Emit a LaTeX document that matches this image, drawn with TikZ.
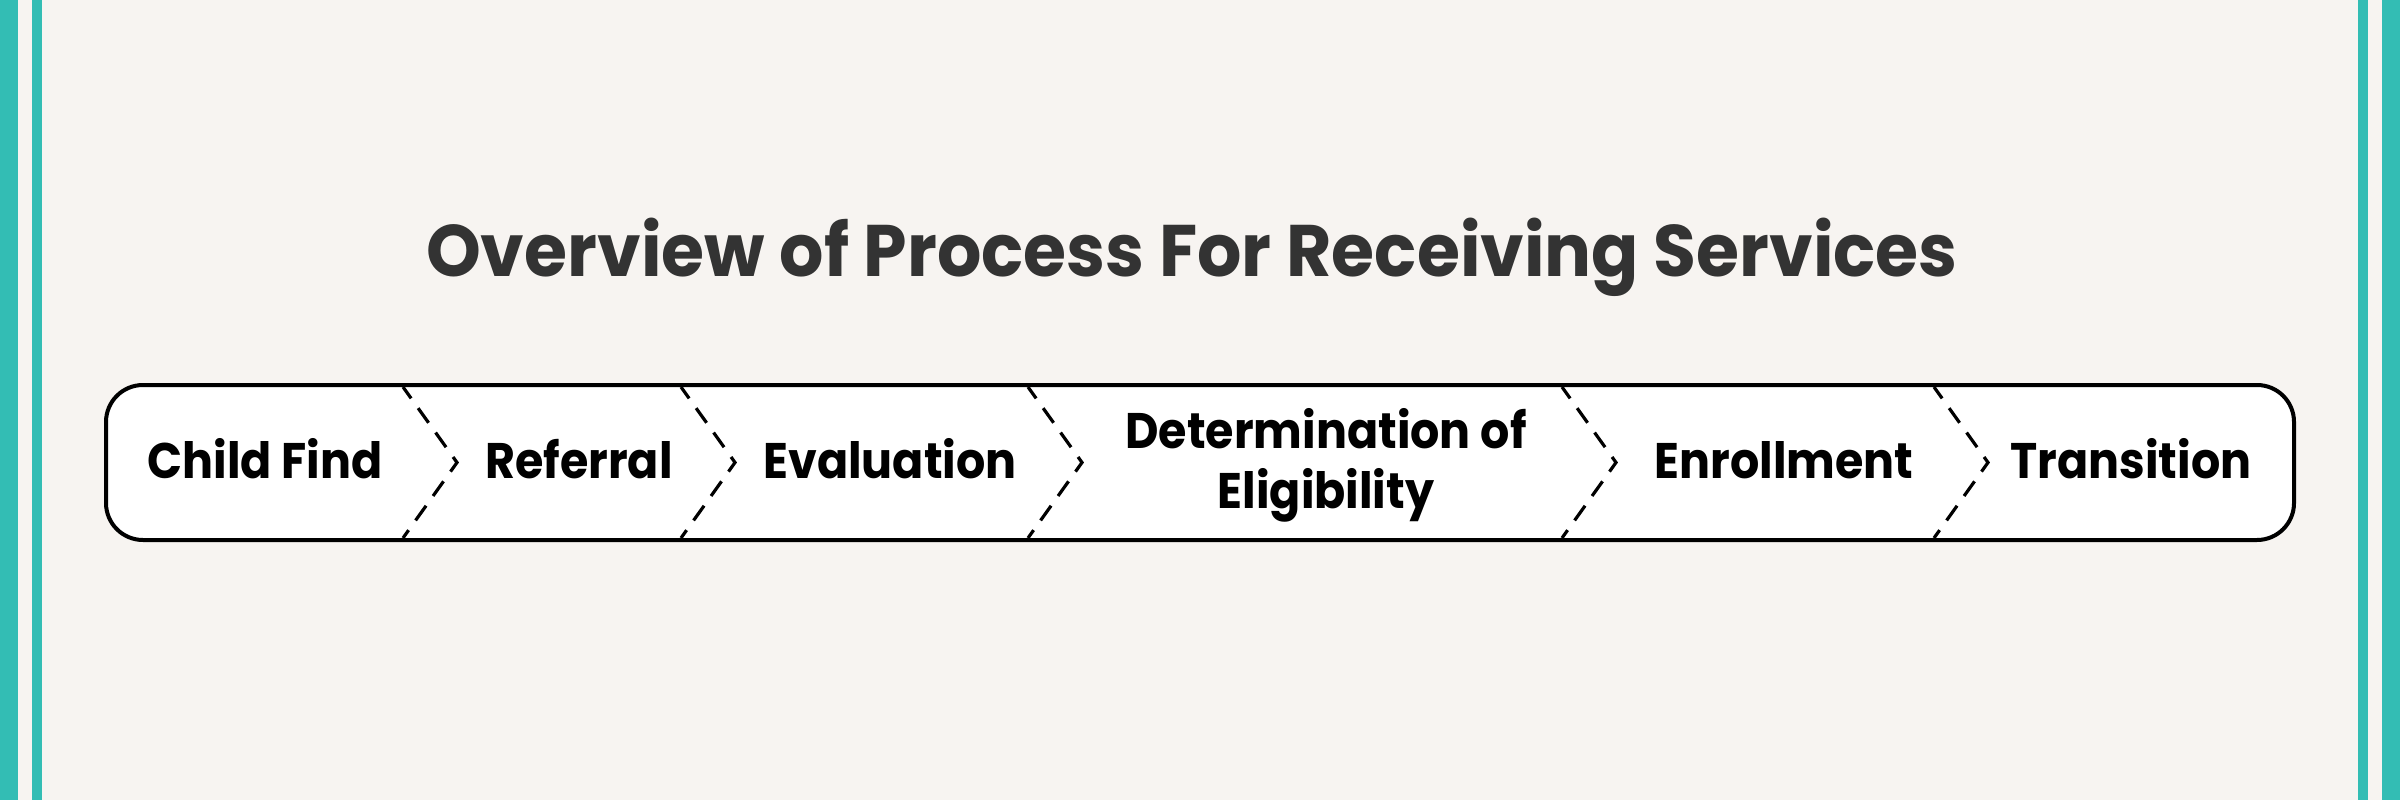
\documentclass[tikz,border=0pt]{standalone}
\usepackage{fontspec}
\setmainfont{Poppins}[FakeStretch=0.92]
\newfontfamily\titlefont{Poppins}[FakeStretch=0.955]
\definecolor{bgc}{HTML}{F7F4F1}
\definecolor{tealc}{HTML}{33BDB4}
\definecolor{titlec}{HTML}{333333}
\tikzset{
  steptext/.style={font=\fontsize{50}{60}\selectfont\bfseries, text=black, inner sep=0pt, align=center},
  divider/.style={line width=3.2pt, dash pattern=on 18pt off 12pt, dash phase=4pt, black},
  barbox/.style={line width=4pt, draw=black, fill=white, rounded corners=37pt}
}
\begin{document}
\begin{tikzpicture}[x=1pt,y=-1pt]
\useasboundingbox (0,0) rectangle (2400,800);
\fill[bgc] (0,0) rectangle (2400,800);
\fill[tealc] (0,0) rectangle (18,800);
\fill[tealc] (32,0) rectangle (42,800);
\fill[tealc] (2358,0) rectangle (2368,800);
\fill[tealc] (2382,0) rectangle (2400,800);
\node[font=\titlefont\fontsize{73}{80}\selectfont\bfseries, text=titlec, inner sep=0pt, anchor=base] (title) at (1192,276) {Overview of Process For Receiving Services};
\draw[barbox] (106,385) rectangle (2294,540);
\foreach \i/\x in {1/403,2/681,3/1028,4/1562,5/1934}{
  \coordinate (t\i) at (\x,387);
  \coordinate (p\i) at (\x+54,462.5);
  \coordinate (b\i) at (\x,538);
  \draw[divider] (t\i) -- (p\i) -- (b\i);
}
\node[steptext, anchor=base] (s1) at (265,478) {Child Find};
\node[steptext, anchor=base] (s2) at (579,478) {Referral};
\node[steptext, anchor=base] (s3) at (890,478) {Evaluation};
\node[steptext, anchor=base] (s4) at (1326,508) {Determination of\\Eligibility};
\node[steptext, anchor=base] (s5) at (1784,478) {Enrollment};
\node[steptext, anchor=base] (s6) at (2131,478) {Transition};
\end{tikzpicture}
\end{document}
